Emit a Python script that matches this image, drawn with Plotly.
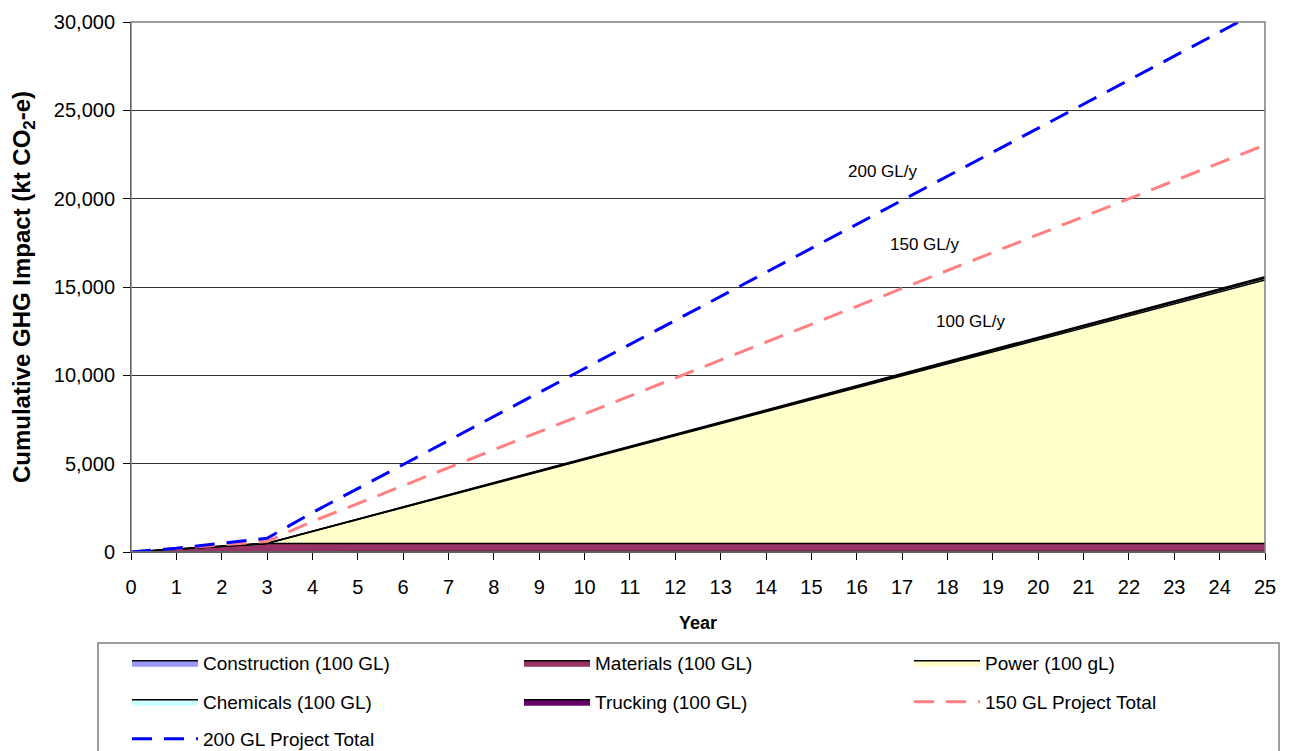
import plotly.graph_objects as go

years = list(range(26))

construction = [0, 10, 20, 30] + [30] * 22
materials = [0, 150, 310, 450] + [450] * 22
power = [0, 0, 0, 0] + [678 * (y - 3) for y in range(4, 26)]
chemicals = [0, 3, 6, 9] + [9 + 4 * (y - 3) for y in range(4, 26)]
trucking = [0, 2, 4, 6] + [6 + 4 * (y - 3) for y in range(4, 26)]

total_150 = [0, 180, 400, 600, 1730, 2740, 3760, 4770, 5790, 6800, 7820, 8830,
             9850, 10860, 11880, 12890, 13910, 14920, 15940, 16950, 17970,
             18980, 20000, 21010, 22030, 23040]
total_200 = [0, 210, 490, 775, 2230, 3590, 4950, 6310, 7670, 9030, 10390, 11750,
             13110, 14470, 15830, 17190, 18550, 19910, 21270, 22630, 23990,
             25350, 26710, 28070, 29430, 30790]

y_ticks = [0, 5000, 10000, 15000, 20000, 25000, 30000]

labels = [("200 GL/y", 16.56, 21510), ("150 GL/y", 17.5, 17430), ("100 GL/y", 18.5, 13075)]

FONT = "Liberation Sans, Arial, sans-serif"
# the page body has an 8px margin, so the figure is offset by (8, 8)
OFF = 8
W, H = 1289 - OFF, 751 - OFF

# legend slots in page px: (column left, row centre)
cols = [127, 519, 909]
rows = [663, 702, 739]
slots = [(cols[0], rows[0]), (cols[1], rows[0]), (cols[2], rows[0]),
         (cols[0], rows[1]), (cols[1], rows[1]), (cols[2], rows[1]),
         (cols[0], rows[2])]
legend_ids = ["legend"] + ["legend%d" % i for i in range(2, 8)]

fig = go.Figure()

areas = [
    ("Construction (100 GL)", construction, "#9999FF"),
    ("Materials (100 GL)", materials, "#993366"),
    ("Power (100 gL)", power, "#FFFFCC"),
    ("Chemicals (100 GL)", chemicals, "#CCFFFF"),
    ("Trucking (100 GL)", trucking, "#660066"),
]
for i, (name, vals, col) in enumerate(areas):
    fig.add_trace(go.Scatter(
        x=years, y=vals, name=name, stackgroup="one", mode="lines",
        line=dict(color="#000000", width=1.5), fillcolor=col,
        legend=legend_ids[i], hoverinfo="skip"))

fig.add_trace(go.Scatter(
    x=years, y=total_150, name="150 GL Project Total", mode="lines",
    line=dict(color="#FF8080", width=3, dash="20px,12px"), legend=legend_ids[5]))
fig.add_trace(go.Scatter(
    x=years, y=total_200, name="200 GL Project Total", mode="lines",
    line=dict(color="#0000FF", width=3, dash="20px,12px"), legend=legend_ids[6]))

for txt, xx, yy in labels:
    fig.add_annotation(x=xx, y=yy, text=txt, showarrow=False,
                       font=dict(family=FONT, size=17, color="#000000"))

legends = {}
for lid, (px, py) in zip(legend_ids, slots):
    legends[lid] = dict(
        orientation="h", xref="container", yref="container",
        x=(px - OFF) / W, y=1 - (py - OFF) / H, xanchor="left", yanchor="middle",
        font=dict(family=FONT, size=19, color="#000000"),
        bgcolor="rgba(0,0,0,0)", borderwidth=0, itemwidth=66,
        itemclick=False, itemdoubleclick=False)

fig.update_layout(
    width=W, height=H,
    margin=dict(l=131 - OFF, r=W - (1265 - OFF), t=22 - OFF, b=H - (552 - OFF),
                autoexpand=False),
    paper_bgcolor="white", plot_bgcolor="white",
    font=dict(family=FONT, size=20, color="#000000"),
    showlegend=True,
    xaxis=dict(range=[0, 25], tickmode="linear", tick0=0, dtick=1,
               ticks="outside", ticklen=7, tickcolor="#000000",
               showgrid=False, showline=True, linecolor="#000000", linewidth=1,
               zeroline=False, ticklabelstandoff=10,
               tickfont=dict(family=FONT, size=20),
               title=dict(text="<b>Year</b>", font=dict(family=FONT, size=18), standoff=19)),
    yaxis=dict(range=[0, 30000], tickvals=y_ticks, tickformat=",d",
               ticks="outside", ticklen=7, tickcolor="#000000",
               showgrid=True, gridcolor="#333333", gridwidth=1,
               showline=True, linecolor="#000000", linewidth=1, zeroline=False,
               ticklabelstandoff=4,
               tickfont=dict(family=FONT, size=20),
               title=dict(text="<b>Cumulative GHG Impact (kt CO<sub>2</sub>-e)</b>",
                          font=dict(family=FONT, size=24), standoff=18)),
    shapes=[
        dict(type="rect", xref="paper", yref="paper", x0=0, x1=1, y0=0, y1=1,
             line=dict(color="#808080", width=1.5), layer="above"),
        dict(type="rect", xref="paper", yref="paper",
             x0=(98 - 131) / 1134, x1=(1279 - 131) / 1134,
             y0=(552 - 770) / 530, y1=(552 - 643) / 530,
             line=dict(color="#808080", width=1.5)),
    ],
    **legends,
)

fig.write_html("out.html")
